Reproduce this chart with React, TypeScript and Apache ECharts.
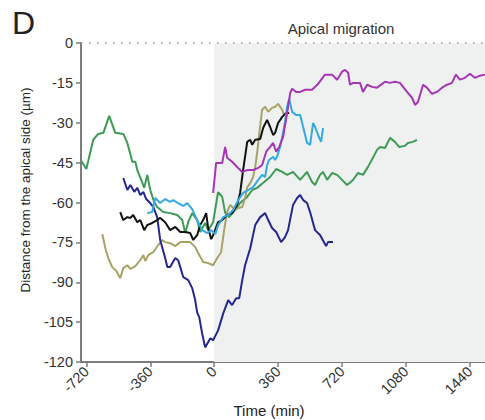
import React, { useEffect, useRef } from "react";
import * as echarts from "echarts";

const FONT = "'Liberation Sans', Arial, Helvetica, sans-serif";

const xTicks = [-720, -360, 0, 360, 720, 1080, 1440];

const greenTime = [-748,-720,-681,-653,-624,-591,-557,-512,-489,-461,-444,-433,-411,-394,-377,-360,-338,-321,-287,-248,-208,-180,-163,-146,-124,-96,-79,-51,-34,-6,22,45,62,84,118,146,186,214,242,276,315,349,383,411,444,484,523,551,568,596,613,636,664,692,720,748,782,810,838,866,894,917,934,962,990,1018,1041,1074,1091,1119,1142];
const greenDist = [-44.4,-47.4,-36.4,-34.2,-33.8,-27.4,-33.8,-34.2,-37.6,-44.7,-44.7,-47.8,-51.5,-54.5,-49.6,-55.3,-59.8,-61.7,-63.6,-64.0,-64.7,-66.6,-71.5,-67.3,-64.0,-66.6,-71.1,-67.7,-70.4,-67.4,-56.1,-57.9,-63.9,-65.5,-62.8,-60.2,-57.9,-55.3,-54.5,-52.6,-50.4,-47.4,-48.5,-49.6,-48.5,-51.5,-48.5,-52.3,-53.4,-49.6,-48.5,-51.5,-48.9,-49.6,-51.5,-53.4,-51.5,-48.9,-49.6,-46.6,-43.2,-40.2,-39.1,-39.5,-35.7,-37.2,-39.1,-38.7,-37.6,-37.2,-36.4];

const purpleTime = [-6,11,45,62,73,101,135,158,186,219,248,270,293,315,332,349,366,388,411,428,439,461,484,512,551,585,624,664,692,720,737,754,765,782,821,838,861,889,917,962,990,1018,1046,1086,1114,1131,1148,1176,1198,1226,1254,1283,1311,1339,1361,1384,1412,1440,1468,1496,1524];
const purpleDist = [-56.4,-45.1,-45.1,-39.1,-43.2,-44.7,-47.0,-48.5,-47.8,-47.8,-47.0,-45.9,-40.9,-39.1,-37.6,-40.9,-39.1,-35.3,-26.3,-18.8,-17.2,-18.4,-18.4,-17.6,-17.6,-15.4,-11.9,-11.9,-13.8,-10.8,-10.1,-11.2,-15.7,-15.0,-15.0,-18.4,-15.7,-16.5,-16.8,-14.6,-15.0,-14.6,-15.0,-18.4,-20.6,-23.3,-22.1,-15.7,-16.8,-19.1,-18.4,-16.8,-15.7,-15.0,-11.9,-13.8,-13.1,-11.6,-13.1,-12.3,-11.9];

const navyTime = [-512,-489,-472,-450,-433,-416,-399,-383,-360,-343,-321,-304,-276,-264,-248,-219,-203,-191,-174,-146,-124,-107,-96,-84,-68,-51,-34,-22,-6,22,51,79,101,124,141,158,174,203,231,259,287,304,326,349,377,399,416,444,467,484,501,523,540,568,596,630,641,669];
const navyDist = [-50.8,-55.3,-53.4,-56.0,-54.5,-57.2,-56.0,-58.7,-60.2,-61.7,-65.5,-74.1,-80.9,-84.3,-84.3,-80.9,-81.7,-84.3,-88.1,-89.2,-92.2,-96.7,-101.3,-103.2,-109.2,-114.5,-112.6,-111.1,-111.8,-108.1,-101.7,-96.7,-98.6,-96.0,-96.0,-89.2,-83.6,-77.2,-68.5,-65.5,-64.0,-66.6,-69.6,-71.1,-74.9,-73.0,-70.4,-60.9,-58.3,-57.2,-59.1,-60.2,-63.6,-70.4,-72.2,-76.4,-74.9,-74.9];

const blackTime = [-529,-512,-489,-472,-456,-433,-416,-394,-377,-349,-321,-304,-276,-248,-219,-191,-163,-135,-118,-96,-79,-62,-45,-34,-17,-6,22,45,73,101,129,146,163,186,203,214,231,259,276,298,315,332,343,360,383,405,422];
const blackDist = [-63.6,-66.6,-65.5,-65.8,-64.7,-67.4,-66.6,-70.4,-68.5,-67.7,-66.6,-65.8,-67.4,-70.4,-69.2,-71.1,-71.1,-71.5,-74.1,-72.3,-68.5,-66.6,-64.0,-69.6,-73.8,-72.3,-67.4,-66.6,-64.7,-64.0,-60.9,-56.4,-47.8,-37.2,-36.4,-38.3,-36.4,-36.1,-31.9,-28.9,-31.6,-34.6,-33.8,-30.1,-27.8,-26.3,-26.3];

const oliveTime = [-630,-613,-596,-574,-551,-529,-512,-489,-472,-444,-416,-399,-388,-371,-343,-315,-293,-276,-248,-219,-191,-163,-135,-107,-90,-62,-34,-6,17,39,56,73,90,118,135,158,174,186,203,219,231,242,253,270,287,304,326,343,360,383,394];
const oliveDist = [-71.9,-77.2,-81.0,-84.3,-85.8,-88.5,-84.7,-83.6,-85.0,-83.9,-81.7,-79.8,-82.0,-79.8,-78.7,-76.0,-74.1,-74.9,-75.3,-76.4,-74.9,-74.9,-74.9,-76.8,-79.0,-82.4,-82.8,-83.6,-80.9,-78.7,-70.4,-63.6,-60.9,-62.8,-62.1,-61.7,-58.3,-54.2,-52.7,-50.4,-46.6,-41.3,-34.6,-25.1,-24.0,-25.9,-24.4,-24.0,-22.9,-25.1,-27.1];

const blueTime = [-377,-349,-332,-304,-276,-248,-231,-203,-174,-152,-124,-96,-68,-39,-17,6,22,51,79,107,135,163,191,219,248,270,287,298,309,332,343,354,371,388,399,411,422,439,461,484,501,523,540,557,568,585,602,613];
const blueDist = [-64.0,-63.6,-58.3,-60.2,-58.7,-59.8,-59.1,-60.2,-61.3,-60.2,-62.5,-66.6,-70.4,-71.5,-70.4,-71.9,-68.5,-65.5,-64.7,-62.8,-59.1,-56.4,-55.3,-54.2,-51.5,-49.6,-50.4,-45.9,-44.0,-42.8,-44.0,-42.8,-39.1,-33.8,-29.7,-24.0,-21.0,-25.9,-27.1,-27.1,-31.6,-37.6,-38.3,-30.1,-31.6,-34.6,-37.2,-32.0];

const zip = (t: number[], v: number[]) => t.map((x, i) => [x, v[i]]);

const traces = [
  { name: "green", color: "#3d9b55", t: greenTime, v: greenDist },
  { name: "olive", color: "#a9a267", t: oliveTime, v: oliveDist },
  { name: "navy", color: "#262690", t: navyTime, v: navyDist },
  { name: "black", color: "#111111", t: blackTime, v: blackDist },
  { name: "lightblue", color: "#33a9e2", t: blueTime, v: blueDist },
  { name: "purple", color: "#a535b5", t: purpleTime, v: purpleDist },
];

export default function App() {
  const ref = useRef<HTMLDivElement>(null);
  useEffect(() => {
    if (!ref.current) return;
    const chart = echarts.init(ref.current, undefined, { renderer: "svg" });
    const axisColor = "#7d7d7d";
    chart.setOption({
      animation: false,
      backgroundColor: "#ffffff",
      grid: { left: 81, top: 43, right: 0, bottom: 58, containLabel: false },
      xAxis: {
        type: "value",
        min: -750,
        max: 1525,
        axisLine: { show: true, onZero: false, lineStyle: { color: axisColor, width: 2 } },
        axisTick: { show: true, customValues: xTicks, length: 5, lineStyle: { color: axisColor, width: 1.5 } },
        axisLabel: {
          customValues: xTicks, rotate: 45, margin: 7, color: "#333", fontSize: 14.5, fontFamily: FONT,
          formatter: (v: number) => String(v),
        },
        splitLine: { show: false },
      },
      yAxis: {
        type: "value",
        min: -120,
        max: 0,
        interval: 15,
        axisLine: { show: true, onZero: false, lineStyle: { color: axisColor, width: 2 } },
        axisTick: { show: true, length: 5, lineStyle: { color: axisColor, width: 1.5 } },
        axisLabel: { margin: 8, color: "#333", fontSize: 14.5, fontFamily: FONT, formatter: (v: number) => String(v) },
        splitLine: { show: false },
      },
      series: [
        {
          type: "line",
          data: [],
          z: 1,
          silent: true,
          markArea: {
            silent: true,
            itemStyle: { color: "#eff1f1" },
            data: [[{ xAxis: 0, yAxis: 0 }, { xAxis: 1525, yAxis: -120 }]],
          },
          markLine: {
            silent: true,
            symbol: ["none", "none"],
            label: { show: false },
            lineStyle: { color: "#9a9a9a", width: 1.5, type: [1.5, 6.5] },
            data: [{ yAxis: 0 }],
          },
        },
        ...traces.map((tr) => ({
          name: tr.name,
          type: "line",
          z: 2,
          showSymbol: false,
          symbol: "none",
          data: zip(tr.t, tr.v),
          lineStyle: { color: tr.color, width: 2 },
          itemStyle: { color: tr.color },
        })),
      ],
      graphic: [
        { type: "text", left: 12, top: 7, style: { text: "D", fill: "#222", fontSize: 32, fontFamily: FONT } },
        {
          type: "text", x: 341, y: 28,
          style: { text: "Apical migration", fill: "#333", fontSize: 15, fontFamily: FONT, align: "center", verticalAlign: "middle", textAlign: "center", textVerticalAlign: "middle" },
        },
        {
          type: "text", x: 25, y: 190, rotation: Math.PI / 2,
          style: { text: "Distance from the apical side (µm)", fill: "#222", fontSize: 13.5, fontFamily: FONT, align: "center", verticalAlign: "middle", textAlign: "center", textVerticalAlign: "middle" },
        },
        {
          type: "text", x: 269, y: 410,
          style: { text: "Time (min)", fill: "#222", fontSize: 15, fontFamily: FONT, align: "center", verticalAlign: "middle", textAlign: "center", textVerticalAlign: "middle" },
        },
        {
          type: "text", x: 362, y: 284,
          style: { text: "n= 6 cells\nN= 2 organoids", fill: "#222", fontSize: 15, lineHeight: 19, fontFamily: FONT, align: "left", verticalAlign: "top", textAlign: "left", textVerticalAlign: "top" },
        },
      ],
    });
    return () => chart.dispose();
  }, []);
  return <div ref={ref} style={{ position: "fixed", left: 0, top: 0, width: 485, height: 420 }} />;
}
